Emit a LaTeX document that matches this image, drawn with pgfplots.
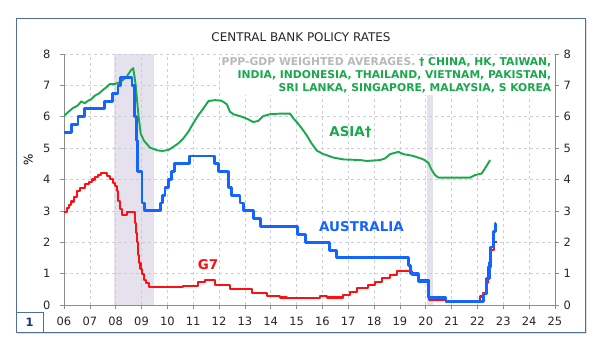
\documentclass[border=0pt]{standalone}
\usepackage{pgfplots}
\pgfplotsset{compat=1.18}
\usepackage{fontspec}
\setmainfont{DejaVu Sans}
\definecolor{asiag}{RGB}{25,168,75}
\definecolor{ausb}{RGB}{20,100,255}
\definecolor{g7r}{RGB}{255,15,15}
\definecolor{shade}{RGB}{205,198,222}
\definecolor{gridc}{RGB}{205,205,225}
\definecolor{axisc}{RGB}{140,140,140}
\definecolor{framec}{RGB}{80,110,160}
\definecolor{anng}{RGB}{185,185,185}
\definecolor{navy}{RGB}{25,55,120}
\begin{document}
\begin{tikzpicture}
\path (0bp,0bp) rectangle (602bp,350bp);
\fill[black!12] (18bp,15.5bp) rectangle (587bp,330bp);
\fill[white] (16bp,17.5bp) rectangle (585bp,332bp);
\draw[framec, line width=0.8bp] (16bp,17.5bp) rectangle (585bp,332bp);
\draw[framec, line width=0.8bp] (16bp,17.5bp) rectangle (43.3bp,37.5bp);
\node[font=\bfseries\fontsize{11.5}{13}\selectfont, text=navy] at (29.6bp,27.3bp) {1};
\begin{axis}[at={(64bp,45bp)}, anchor=south west, scale only axis,
  width=491bp, height=251bp,
  xmin=2006, xmax=2025, ymin=0, ymax=8,
  axis x line*=bottom, axis y line*=left,
  axis line style={axisc, line width=0.8bp},
  tick align=outside,
  major tick length=4bp, minor tick length=4bp,
  tick style={axisc, line width=0.6bp},
  xtick={2006,...,2025},
  xticklabels={06,07,08,09,10,11,12,13,14,15,16,17,18,19,20,21,22,23,24,25},
  minor x tick num=1,
  ytick={0,...,8},
  xmajorgrids, xminorgrids, ymajorgrids,
  major grid style={gridc, dashed, line width=0.6bp},
  minor grid style={gridc, dashed, line width=0.6bp},
  /pgf/number format/assume math mode=true,
  tick label style={font=\fontsize{11.5}{13}\selectfont, text=black!85},
  xticklabel style={yshift=-4.5bp},
  yticklabel style={xshift=-6bp},
  ylabel={\%}, ylabel style={font=\fontsize{12}{13}\selectfont, anchor=center, at={(axis description cs:-0.073,0.578)}},
]
\addplot[draw=none, fill=shade, fill opacity=0.5] coordinates {(2007.92,0) (2007.92,8) (2009.5,8) (2009.5,0)} -- cycle;
\addplot[draw=none, fill=shade, fill opacity=0.5] coordinates {(2020.04,0) (2020.04,8) (2020.27,8) (2020.27,0)} -- cycle;
% ASIA
\addplot[asiag, line width=1.9bp, line join=round] coordinates {
(2006.00,6.03) (2006.15,6.14) (2006.35,6.28) (2006.52,6.35) (2006.67,6.49) (2006.80,6.43)
(2006.93,6.51) (2007.06,6.56) (2007.19,6.67) (2007.35,6.74) (2007.50,6.85) (2007.64,6.94)
(2007.77,7.04) (2007.96,7.04) (2008.15,7.10) (2008.28,7.17) (2008.41,7.26) (2008.58,7.47)
(2008.68,7.55) (2008.77,7.04) (2008.83,6.50) (2008.89,5.98) (2008.97,5.45) (2009.10,5.23)
(2009.32,5.02) (2009.60,4.93) (2009.80,4.91) (2010.04,4.94) (2010.23,5.04) (2010.42,5.15)
(2010.62,5.31) (2010.81,5.52) (2011.00,5.79) (2011.20,6.05) (2011.39,6.26) (2011.59,6.50)
(2011.84,6.53) (2012.10,6.51) (2012.30,6.40) (2012.42,6.16) (2012.55,6.08) (2012.81,6.02)
(2013.07,5.94) (2013.33,5.83) (2013.52,5.87) (2013.71,6.02) (2013.97,6.08) (2014.36,6.10)
(2014.75,6.10) (2014.88,5.94) (2015.00,5.84) (2015.20,5.63) (2015.39,5.41) (2015.58,5.15)
(2015.78,4.92) (2016.04,4.81) (2016.42,4.70) (2016.81,4.64) (2017.46,4.62) (2017.71,4.59)
(2018.23,4.62) (2018.42,4.67) (2018.62,4.81) (2018.94,4.88) (2019.13,4.81) (2019.52,4.75)
(2019.91,4.64) (2020.05,4.56) (2020.10,4.53) (2020.23,4.30) (2020.36,4.14) (2020.49,4.06)
(2021.71,4.06) (2021.90,4.14) (2022.16,4.19) (2022.29,4.35) (2022.49,4.62)
};
% G7
\addplot[g7r, line width=2.1bp, const plot mark left, line join=round] coordinates {
(2006.00,2.95) (2006.10,3.10) (2006.20,3.20) (2006.28,3.30) (2006.40,3.45) (2006.50,3.62)
(2006.62,3.73) (2006.80,3.85) (2006.95,3.92) (2007.10,4.00) (2007.19,4.08) (2007.32,4.15)
(2007.42,4.22) (2007.68,4.10) (2007.78,4.01) (2007.90,3.90) (2007.98,3.80) (2008.06,3.62)
(2008.10,3.32) (2008.18,3.05) (2008.25,2.88) (2008.45,2.97) (2008.73,2.60) (2008.77,2.30)
(2008.81,2.00) (2008.86,1.60) (2008.91,1.35) (2008.96,1.15) (2009.02,1.00) (2009.10,0.80)
(2009.18,0.70) (2009.28,0.58) (2010.60,0.60) (2011.20,0.72) (2011.46,0.80) (2011.84,0.64)
(2012.42,0.50) (2013.26,0.38) (2013.84,0.29) (2014.36,0.24) (2014.62,0.21) (2015.91,0.29)
(2016.17,0.24) (2016.81,0.32) (2017.07,0.42) (2017.33,0.53) (2017.78,0.64) (2018.03,0.74)
(2018.29,0.85) (2018.62,0.96) (2018.87,1.08) (2019.45,0.96) (2019.71,0.80) (2020.12,0.16)
(2020.78,0.11) (2022.10,0.27) (2022.23,0.37) (2022.32,0.69) (2022.42,1.22) (2022.51,1.75)
(2022.64,2.02) (2022.74,2.02)
};
% AUSTRALIA
\addplot[ausb, line width=2.9bp, const plot mark left, line join=round] coordinates {
(2006.00,5.50) (2006.28,5.75) (2006.54,6.00) (2006.80,6.25) (2007.57,6.50) (2007.86,6.75)
(2008.09,7.00) (2008.18,7.25) (2008.63,7.00) (2008.74,6.00) (2008.79,5.25) (2008.86,4.25)
(2009.02,3.25) (2009.12,3.00) (2009.72,3.25) (2009.82,3.50) (2009.91,3.75) (2010.04,4.00)
(2010.17,4.25) (2010.26,4.50) (2010.85,4.75) (2011.84,4.50) (2011.97,4.25) (2012.36,3.75)
(2012.49,3.50) (2012.81,3.25) (2012.94,3.00) (2013.33,2.75) (2013.59,2.50) (2015.02,2.25)
(2015.33,2.00) (2016.29,1.75) (2016.55,1.50) (2019.33,1.25) (2019.42,1.00) (2019.71,0.75)
(2020.10,0.25) (2020.78,0.10) (2022.23,0.35) (2022.36,0.85) (2022.45,1.35) (2022.52,1.85)
(2022.61,2.35) (2022.68,2.60) (2022.72,2.60)
};
\end{axis}
\begin{axis}[at={(64bp,45bp)}, anchor=south west, scale only axis,
  width=491bp, height=251bp,
  xmin=2006, xmax=2025, ymin=0, ymax=8,
  hide x axis, axis y line*=right,
  axis line style={axisc, line width=0.8bp},
  tick align=outside, major tick length=4bp,
  tick style={axisc, line width=0.6bp},
  ytick={0,...,8},
  /pgf/number format/assume math mode=true,
  tick label style={font=\fontsize{11.5}{13}\selectfont, text=black!85},
  yticklabel style={xshift=1bp},
]
\addplot[draw=none] coordinates {(2006,0) (2025,8)};
\end{axis}
\node[font=\fontsize{12}{14}\selectfont, text=black!85] at (301bp,313bp) {CENTRAL BANK POLICY RATES};
\node[anchor=north east, fill=white, align=right, inner sep=1.5bp,
  font=\bfseries\fontsize{10.8}{13}\selectfont] at (553bp,294bp)
  {\textcolor{anng}{PPP-GDP WEIGHTED AVERAGES.} \textcolor{asiag}{† CHINA, HK, TAIWAN,}\\
   \textcolor{asiag}{INDIA, INDONESIA, THAILAND, VIETNAM, PAKISTAN,}\\
   \textcolor{asiag}{SRI LANKA, SINGAPORE, MALAYSIA, S KOREA}};
\node[font=\bfseries\fontsize{13.5}{15}\selectfont, text=asiag] at (350.5bp,218bp) {ASIA†};
\node[font=\bfseries\fontsize{13.5}{15}\selectfont, text=ausb] at (361.5bp,123bp) {AUSTRALIA};
\node[font=\bfseries\fontsize{13.5}{15}\selectfont, text=g7r] at (208bp,85.5bp) {G7};
\end{tikzpicture}
\end{document}
